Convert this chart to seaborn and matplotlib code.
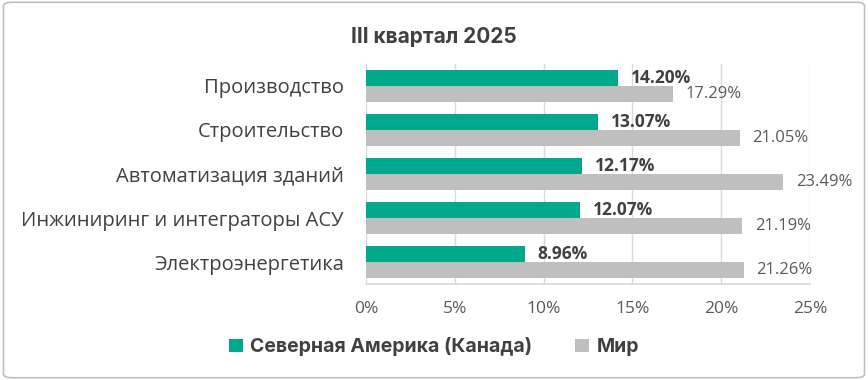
import numpy as np
import pandas as pd
import matplotlib
matplotlib.use("Agg")
import matplotlib.pyplot as plt
import seaborn as sns
from matplotlib.patches import FancyBboxPatch
from matplotlib.ticker import PercentFormatter

# Data
categories = ["Производство", "Строительство", "Автоматизация зданий",
              "Инжиниринг и интеграторы АСУ", "Электроэнергетика"]
series_names = ["Северная Америка (Канада)", "Мир"]
canada_vals = [14.20, 13.07, 12.17, 12.07, 8.96]
world_vals = [17.29, 21.05, 23.49, 21.19, 21.26]
xticks = [0, 5, 10, 15, 20, 25]

df = pd.DataFrame({
    "category": categories * 2,
    "series": [series_names[0]] * 5 + [series_names[1]] * 5,
    "value": canada_vals + world_vals,
})

sns.set_theme(style="white")
plt.rcParams["font.family"] = ["Open Sans", "DejaVu Sans"]

green = "#00A88E"
grey = "#BFBFBF"
text_col = "#404040"

fig = plt.figure(figsize=(8.68, 3.80), dpi=100)
ax = fig.add_axes([0.4217, 0.2526, 0.5115, 0.579])

sns.barplot(data=df, y="category", x="value", hue="series", order=categories,
            hue_order=series_names, palette=[green, grey], width=0.73,
            saturation=1, linewidth=0, orient="h", ax=ax, legend=True)

ax.set_xlim(0, 25)
ax.set_xticks(xticks)
ax.xaxis.set_major_formatter(PercentFormatter(decimals=0))
ax.grid(axis="x", color="#D9D9D9", linewidth=1)
ax.set_axisbelow(True)
ax.set_xlabel("")
ax.set_ylabel("")
for s in ["top", "right", "left"]:
    ax.spines[s].set_visible(False)
ax.spines["bottom"].set_color("#D9D9D9")
ax.tick_params(axis="x", colors="#595959", labelsize=12.5, length=0, pad=12)
ax.tick_params(axis="y", colors=text_col, labelsize=14.5, length=0, pad=16)

# value labels
ax.bar_label(ax.containers[0], fmt="%.2f%%", padding=9, fontsize=12.5,
             fontweight="bold", color=text_col)
ax.bar_label(ax.containers[1], fmt="%.2f%%", padding=9, fontsize=12,
             color="#595959")

fig.suptitle("III квартал 2025", x=0.5, y=0.93, fontsize=15,
             fontweight="bold", color=text_col, family=["Inter", "DejaVu Sans"])

handles, labels = ax.get_legend_handles_labels()
ax.legend_.remove()
leg = fig.legend(handles, labels, loc="center", bbox_to_anchor=(0.5, 0.087),
                 ncol=2, frameon=False, handlelength=0.7, handleheight=0.7,
                 handletextpad=0.4, columnspacing=2.2,
                 prop={"weight": "bold", "size": 14,
                       "family": ["Inter", "DejaVu Sans"]})
for t in leg.get_texts():
    t.set_color(text_col)

border = FancyBboxPatch((0.004, 0.006), 0.992, 0.988,
                        boxstyle="round,pad=0,rounding_size=0.01",
                        transform=fig.transFigure, facecolor="none",
                        edgecolor="#BFBFBF", linewidth=1.2)
fig.patches.append(border)

fig.savefig("out.png", dpi=100, facecolor="white")
